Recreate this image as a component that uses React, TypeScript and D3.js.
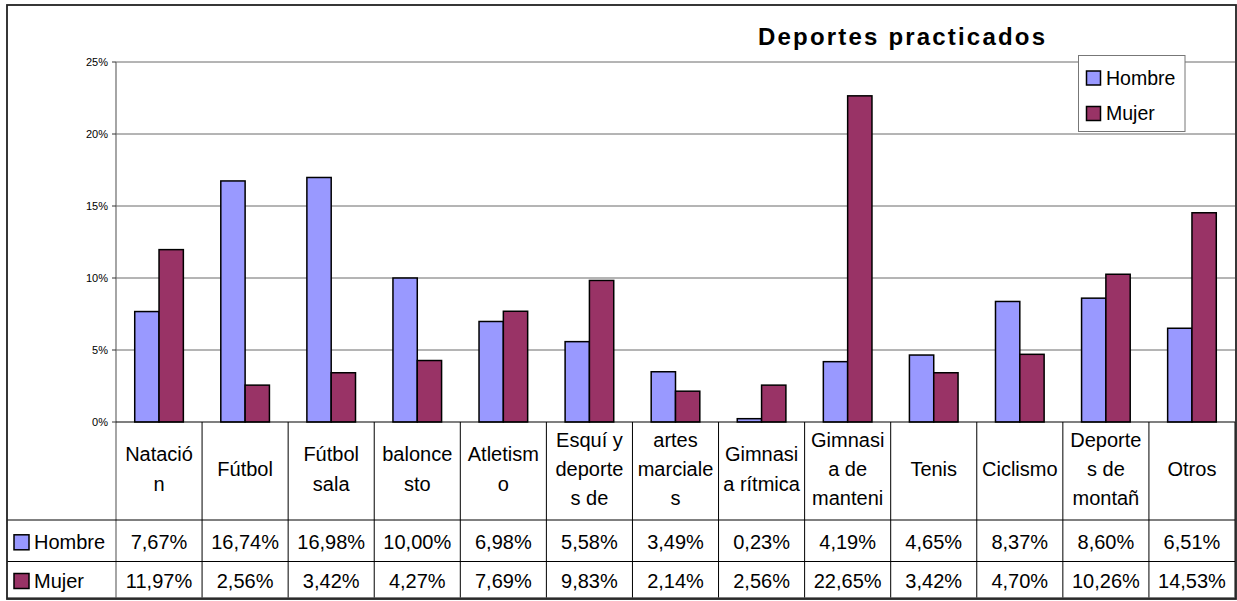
import React from "react";
import * as d3 from "d3";

const categoryLines: string[][] = [
  ["Natació", "n"],
  ["Fútbol"],
  ["Fútbol", "sala"],
  ["balonce", "sto"],
  ["Atletism", "o"],
  ["Esquí y", "deporte", "s de"],
  ["artes", "marciale", "s"],
  ["Gimnasi", "a rítmica"],
  ["Gimnasi", "a de", "manteni"],
  ["Tenis"],
  ["Ciclismo"],
  ["Deporte", "s de", "montañ"],
  ["Otros"],
];
const categories = categoryLines.map((l, i) => `${i}:${l.join(" ")}`);
const seriesNames = ["Hombre", "Mujer"];
const hombre = [7.67, 16.74, 16.98, 10.0, 6.98, 5.58, 3.49, 0.23, 4.19, 4.65, 8.37, 8.6, 6.51];
const mujer = [11.97, 2.56, 3.42, 4.27, 7.69, 9.83, 2.14, 2.56, 22.65, 3.42, 4.7, 10.26, 14.53];
const yTicks = [0, 5, 10, 15, 20, 25];
const title = "Deportes practicados";

const colors = ["#9999FF", "#993366"];
const FONT = "'Liberation Sans', Arial, sans-serif";

export default function App() {
  const W = 1237, H = 601;
  const left = 116, right = 1235, top = 62, bottom = 422;
  const x = d3.scaleBand<string>().domain(categories).range([left, right]).paddingInner(0).paddingOuter(0);
  const bw = x.bandwidth();
  const x1 = d3.scaleBand<string>().domain(seriesNames).range([0, bw]).paddingInner(0).paddingOuter(0.77);
  const y = d3.scaleLinear().domain([0, 25]).range([bottom, top]);
  const fmt = (v: number) => v.toFixed(2).replace(".", ",") + "%";
  const values = [hombre, mujer];
  const rowTop = 520, rowMid = 561.5, rowBot = 598;
  const lineH = 29.3;

  return (
    <div style={{ position: "absolute", left: 0, top: 0 }}>
      <svg width={W} height={H} style={{ display: "block", fontFamily: FONT }}>
        <rect x={0} y={0} width={W} height={H} fill="#fff" />
        {/* gridlines */}
        {yTicks.filter((t) => t > 0).map((t) => (
          <line key={t} x1={left} x2={right} y1={y(t)} y2={y(t)} stroke="#6a6a6a" strokeWidth={1} />
        ))}
        {/* y axis */}
        <line x1={left} x2={left} y1={top} y2={rowBot} stroke="#6a6a6a" strokeWidth={1.2} />
        {yTicks.map((t) => (
          <g key={t}>
            <line x1={left - 4} x2={left} y1={y(t)} y2={y(t)} stroke="#333" />
            <text x={left - 8} y={y(t)} dy="0.35em" textAnchor="end" fontSize={11} fill="#000">
              {t}%
            </text>
          </g>
        ))}
        {/* bars */}
        {categories.map((c, i) =>
          values.map((vals, s) => (
            <rect
              key={c + s}
              x={(x(c) as number) + (x1(seriesNames[s]) as number)}
              y={y(vals[i])}
              width={x1.bandwidth()}
              height={bottom - y(vals[i])}
              fill={colors[s]}
              stroke="#000"
              strokeWidth={1.5}
            />
          ))
        )}
        {/* baseline */}
        <line x1={left} x2={right} y1={bottom} y2={bottom} stroke="#000" strokeWidth={1.2} />
        {/* data table lines */}
        {categories.map((c, i) => (
          <line key={"v" + i} x1={(x(c) as number) + bw} x2={(x(c) as number) + bw} y1={bottom} y2={rowBot} stroke="#000" strokeWidth={1} />
        ))}
        <line x1={7} x2={right} y1={rowTop} y2={rowTop} stroke="#000" />
        <line x1={7} x2={right} y1={rowMid} y2={rowMid} stroke="#000" />
        <line x1={7} x2={right} y1={rowBot} y2={rowBot} stroke="#555" strokeWidth={1.5} />
        {/* category labels */}
        {categories.map((c, i) => {
          const lines = categoryLines[i];
          const cx = (x(c) as number) + bw / 2;
          const cy = 469;
          const start = cy - ((lines.length - 1) * lineH) / 2;
          return (
            <text key={"cl" + i} textAnchor="middle" fontSize={20} fill="#000">
              {lines.map((ln, k) => (
                <tspan key={k} x={cx} y={start + k * lineH} dy="0.35em">
                  {ln}
                </tspan>
              ))}
            </text>
          );
        })}
        {/* row headers and values */}
        {seriesNames.map((name, s) => {
          const cy = s === 0 ? 542.3 : 581;
          return (
            <g key={name}>
              <rect x={14} y={cy - 7.5} width={15} height={15} fill={colors[s]} stroke="#000" strokeWidth={1.5} />
              <text x={34} y={cy} dy="0.35em" fontSize={20} fill="#000">{name}</text>
              {categories.map((c, i) => (
                <text key={c} x={(x(c) as number) + bw / 2} y={cy} dy="0.35em" textAnchor="middle" fontSize={20} fill="#000">
                  {fmt(values[s][i])}
                </text>
              ))}
            </g>
          );
        })}
        {/* title */}
        <text x={758} y={45} fontSize={24} fontWeight="bold" textLength={287} lengthAdjust="spacing" fill="#000">
          {title}
        </text>
        {/* legend */}
        <rect x={1078.5} y={55.5} width={106.5} height={76} fill="#fff" stroke="#777" strokeWidth={1} />
        {seriesNames.map((name, s) => {
          const cy = s === 0 ? 78 : 113.5;
          return (
            <g key={"lg" + name}>
              <rect x={1086.5} y={cy - 7} width={14} height={14} fill={colors[s]} stroke="#000" strokeWidth={1.5} />
              <text x={1106} y={cy} dy="0.35em" fontSize={19.5} fill="#000">{name}</text>
            </g>
          );
        })}
        {/* outer border */}
        <rect x={7} y={5} width={1229} height={594} fill="none" stroke="#222" strokeWidth={1.8} />
      </svg>
    </div>
  );
}
